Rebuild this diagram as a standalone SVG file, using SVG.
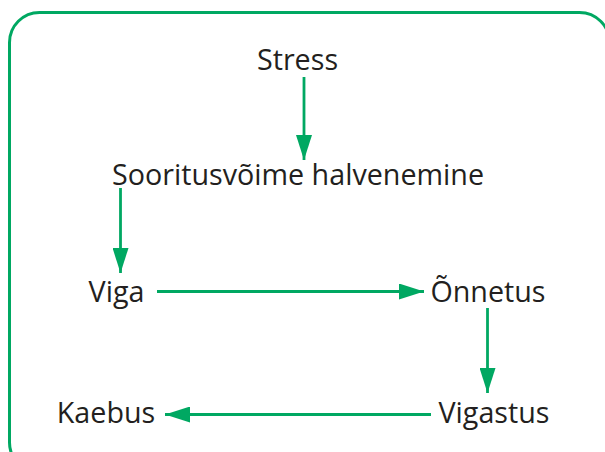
<svg xmlns="http://www.w3.org/2000/svg" width="605" height="452" viewBox="0 0 605 452">
<defs>
<style>
.t{font-family:"Open Sans","Noto Sans",sans-serif;font-size:28.7px;fill:#231f20;text-anchor:middle}
.c{stroke:#00a862;stroke-width:2.8;fill:none}
</style>
<marker id="ah" markerUnits="userSpaceOnUse" markerWidth="26" markerHeight="16" refX="25" refY="8" orient="auto">
<path d="M0,0 L25,8 L0,16 Z" fill="#00a862"/>
</marker>
</defs>
<rect x="9.5" y="12.5" width="600" height="460" rx="30" ry="30" fill="#fff" stroke="#00a862" stroke-width="3"/>
<g id="connectors">
<line class="c" x1="304" y1="77" x2="304" y2="160" marker-end="url(#ah)"/>
<line class="c" x1="120.5" y1="188" x2="120.5" y2="273" marker-end="url(#ah)"/>
<line class="c" x1="157" y1="291.5" x2="424" y2="291.5" marker-end="url(#ah)"/>
<line class="c" x1="487.5" y1="308" x2="487.5" y2="393" marker-end="url(#ah)"/>
<line class="c" x1="431" y1="414.5" x2="165" y2="414.5" marker-end="url(#ah)"/>
</g>
<g id="stress"><text class="t" x="297.5" y="70">Stress</text></g>
<g id="sooritus"><text class="t" x="298" y="185">Sooritusvõime halvenemine</text></g>
<g id="viga"><text class="t" x="116.5" y="302">Viga</text></g>
<g id="onnetus"><text class="t" x="488" y="302">Õnnetus</text></g>
<g id="kaebus"><text class="t" x="106" y="423">Kaebus</text></g>
<g id="vigastus"><text class="t" x="494" y="423">Vigastus</text></g>
</svg>
